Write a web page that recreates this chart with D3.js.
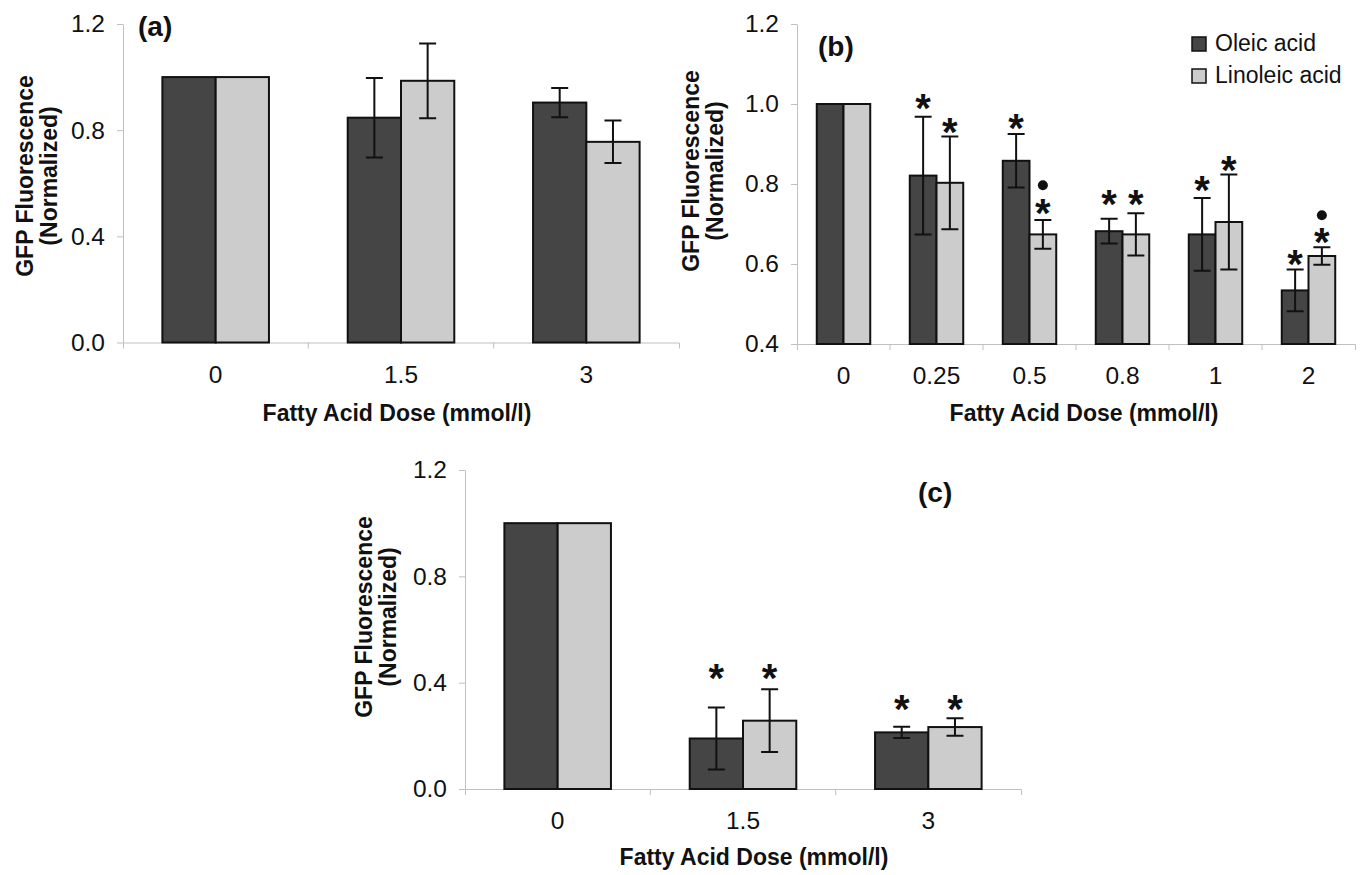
<!DOCTYPE html>
<html>
<head>
<meta charset="utf-8">
<script src="https://cdn.jsdelivr.net/npm/d3@7"></script>
<style>
  body { margin: 0; background: #fff; }
  svg { display: block; font-family: "Liberation Sans", Arial, sans-serif; }
  .axis .domain, .axis line { stroke: #c0c0c0; stroke-width: 1; }
  .axis text { font-size: 24.5px; fill: #111; font-family: "Liberation Sans", Arial, sans-serif; }
</style>
</head>
<body>
<div id="chart"></div>
<script>
const width = 1364;
const height = 875;

// panel (a)
const dosesA = ["0", "1.5", "3"];
const oleicA = [1.0, 0.847, 0.904];
const oleicErrA = [0, 0.15, 0.055];
const linoleicA = [1.0, 0.986, 0.756];
const linoleicErrA = [0, 0.141, 0.08];

// panel (b)
const dosesB = ["0", "0.25", "0.5", "0.8", "1", "2"];
const oleicB = [1.0, 0.821, 0.858, 0.682, 0.674, 0.534];
const oleicErrB = [0, 0.147, 0.067, 0.031, 0.091, 0.052];
const linoleicB = [1.0, 0.803, 0.674, 0.674, 0.705, 0.62];
const linoleicErrB = [0, 0.116, 0.036, 0.053, 0.119, 0.022];
const starOleicB = [null, 1.012, 0.962, 0.772, 0.806, 0.622];
const starLinoleicB = [null, 0.953, 0.75, 0.772, 0.856, 0.677];
const dotLinoleicB = [null, null, 0.797, null, null, 0.722];

// panel (c)
const dosesC = ["0", "1.5", "3"];
const oleicC = [1.0, 0.19, 0.213];
const oleicErrC = [0, 0.117, 0.021];
const linoleicC = [1.0, 0.257, 0.233];
const linoleicErrC = [0, 0.118, 0.033];
const starOleicC = [null, 0.45, 0.335];
const starLinoleicC = [null, 0.45, 0.335];

const seriesNames = ["Oleic acid", "Linoleic acid"];
const colors = ["#454545", "#cccccc"];

const svg = d3.select("#chart")
  .append("svg")
  .attr("width", width)
  .attr("height", height);

function drawPanel(cfg) {
  const g = svg.append("g");

  const x = d3.scaleBand()
    .domain(cfg.doses)
    .range(cfg.xRange)
    .padding(0);

  const y = d3.scaleLinear()
    .domain(cfg.yDomain)
    .range(cfg.yRange);

  const groupW = x.step() * 0.575;
  const barW = groupW / 2;
  const barX = (d, s) => x(d) + (x.step() - groupW) / 2 + s * barW;

  // y axis
  g.append("g")
    .attr("class", "axis")
    .attr("transform", `translate(${cfg.xRange[0]},0)`)
    .call(d3.axisLeft(y).tickValues(cfg.yTicks).tickFormat(d3.format(".1f"))
      .tickSize(6).tickSizeOuter(0).tickPadding(12));

  // x axis, labels centred, ticks at the group boundaries
  const xAxis = g.append("g")
    .attr("class", "axis")
    .attr("transform", `translate(0,${cfg.yRange[0]})`)
    .call(d3.axisBottom(x).tickSize(0).tickSizeOuter(6).tickPadding(23));
  xAxis.selectAll(".sep")
    .data(cfg.doses.slice(1))
    .enter()
    .append("line")
    .attr("x1", d => x(d))
    .attr("x2", d => x(d))
    .attr("y1", 0)
    .attr("y2", 6);

  // bars
  const series = [
    { vals: cfg.oleic, errs: cfg.oleicErr, stars: cfg.starOleic, dots: null },
    { vals: cfg.linoleic, errs: cfg.linoleicErr, stars: cfg.starLinoleic, dots: cfg.dotLinoleic }
  ];

  series.forEach((s, si) => {
    const rows = cfg.doses.map((d, i) => ({
      dose: d, v: s.vals[i], e: s.errs[i],
      star: s.stars ? s.stars[i] : null,
      dot: s.dots ? s.dots[i] : null
    }));

    g.selectAll(".bar" + si)
      .data(rows)
      .enter()
      .append("rect")
      .attr("x", d => barX(d.dose, si))
      .attr("y", d => y(d.v))
      .attr("width", barW)
      .attr("height", d => y(cfg.yDomain[0]) - y(d.v))
      .attr("fill", colors[si])
      .attr("stroke", "#111")
      .attr("stroke-width", 2);

    // error bars
    const eb = rows.filter(d => d.e > 0);
    const cx = d => barX(d.dose, si) + barW / 2;
    g.selectAll(".err" + si)
      .data(eb)
      .enter()
      .append("path")
      .attr("d", d => {
        const t = y(d.v + d.e), b = y(d.v - d.e), c = cx(d);
        return `M${c},${t}V${b}M${c - 8.5},${t}H${c + 8.5}M${c - 8.5},${b}H${c + 8.5}`;
      })
      .attr("fill", "none")
      .attr("stroke", "#111")
      .attr("stroke-width", 2);

    // significance marks
    g.selectAll(".star" + si)
      .data(rows.filter(d => d.star != null))
      .enter()
      .append("text")
      .attr("x", cx)
      .attr("y", d => y(d.star))
      .attr("dy", "0.57em")
      .attr("text-anchor", "middle")
      .attr("font-size", 40)
      .attr("font-weight", "bold")
      .attr("fill", "#111")
      .text("*");

    g.selectAll(".dot" + si)
      .data(rows.filter(d => d.dot != null))
      .enter()
      .append("circle")
      .attr("cx", cx)
      .attr("cy", d => y(d.dot))
      .attr("r", 5)
      .attr("fill", "#111");
  });

  // axis titles
  const yt = g.append("text")
    .attr("transform", `translate(${cfg.yTitle[0]},${cfg.yTitle[1]}) rotate(-90)`)
    .attr("text-anchor", "middle")
    .attr("font-size", 23)
    .attr("font-weight", "bold")
    .attr("fill", "#111");
  yt.append("tspan").attr("x", 0).attr("y", 0).text("GFP Fluorescence");
  yt.append("tspan").attr("x", 0).attr("y", 24).text("(Normalized)");

  g.append("text")
    .attr("x", cfg.xTitle[0])
    .attr("y", cfg.xTitle[1])
    .attr("text-anchor", "middle")
    .attr("font-size", 23)
    .attr("font-weight", "bold")
    .attr("fill", "#111")
    .text("Fatty Acid Dose (mmol/l)");

  g.append("text")
    .attr("x", cfg.label[0])
    .attr("y", cfg.label[1])
    .attr("font-size", 28)
    .attr("font-weight", "bold")
    .attr("fill", "#111")
    .text(cfg.name);
}

drawPanel({
  name: "(a)", doses: dosesA,
  oleic: oleicA, oleicErr: oleicErrA, linoleic: linoleicA, linoleicErr: linoleicErrA,
  starOleic: null, starLinoleic: null, dotLinoleic: null,
  xRange: [123, 679], yRange: [342.5, 24], yDomain: [0, 1.2], yTicks: [0, 0.4, 0.8, 1.2],
  yTitle: [33, 176], xTitle: [397, 421], label: [138, 36]
});

drawPanel({
  name: "(b)", doses: dosesB,
  oleic: oleicB, oleicErr: oleicErrB, linoleic: linoleicB, linoleicErr: linoleicErrB,
  starOleic: starOleicB, starLinoleic: starLinoleicB, dotLinoleic: dotLinoleicB,
  xRange: [797, 1355], yRange: [344, 24], yDomain: [0.4, 1.2], yTicks: [0.4, 0.6, 0.8, 1.0, 1.2],
  yTitle: [699, 171], xTitle: [1084, 421], label: [818, 56]
});

drawPanel({
  name: "(c)", doses: dosesC,
  oleic: oleicC, oleicErr: oleicErrC, linoleic: linoleicC, linoleicErr: linoleicErrC,
  starOleic: starOleicC, starLinoleic: starLinoleicC, dotLinoleic: null,
  xRange: [465, 1021], yRange: [789, 470], yDomain: [0, 1.2], yTicks: [0, 0.4, 0.8, 1.2],
  yTitle: [372, 617], xTitle: [754, 865], label: [918, 502]
});

// legend in panel (b)
const legend = svg.append("g")
  .selectAll("g")
  .data(seriesNames)
  .enter()
  .append("g")
  .attr("transform", (d, i) => `translate(1192,${37 + i * 32})`);

legend.append("rect")
  .attr("width", 14)
  .attr("height", 14)
  .attr("fill", (d, i) => colors[i])
  .attr("stroke", "#111")
  .attr("stroke-width", 1.5);

legend.append("text")
  .attr("x", 23)
  .attr("y", 14)
  .attr("font-size", 23)
  .attr("fill", "#111")
  .text(d => d);
</script>
</body>
</html>
